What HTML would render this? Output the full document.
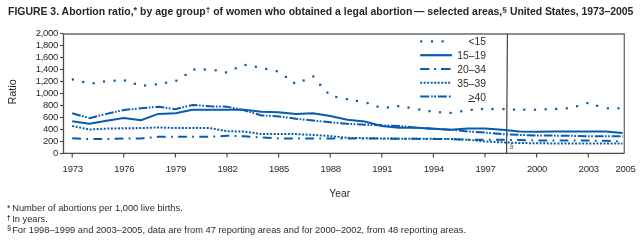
<!DOCTYPE html>
<html><head><meta charset="utf-8"><style>
html,body{margin:0;padding:0;background:#fff;width:641px;height:242px;overflow:hidden;position:relative}
#w{position:absolute;left:0;top:0;width:641px;height:242px;will-change:transform;-webkit-font-smoothing:antialiased}
div{position:absolute;white-space:nowrap;font-family:"Liberation Sans",sans-serif;color:#2b2b2b;line-height:1}
.t{top:6.6px;font-size:10.1px;font-weight:bold;color:#262626;transform-origin:0 0;transform:scaleX(1.035)}
.t sup{font-size:8px;vertical-align:0;position:relative;top:-2.2px}
.yl{right:583px;font-size:9.5px;letter-spacing:-0.3px;text-align:right}
.xl{top:164.3px;width:40px;text-align:center;font-size:9.5px;letter-spacing:-0.25px}
.lg{right:155px;font-size:10.3px}
.fn{left:12.2px;font-size:9.3px}
.fs{left:7.3px;font-size:7px;color:#222}
.fn sup{font-size:6px;position:relative;top:-3px;vertical-align:0;margin-right:1px}
</style></head><body><div id="w">
<svg width="641" height="242" style="position:absolute;left:0;top:0">
<path d="M63.5,34 H624.3 V153.4" fill="none" stroke="#6a6a6a" stroke-width="1.3"/>
<path d="M63.5,34 V153.4 H624.3" fill="none" stroke="#4a4a4a" stroke-width="1.3"/>
<line x1="60" y1="153.50" x2="63.5" y2="153.50" stroke="#4a4a4a" stroke-width="1.2"/>
<line x1="60" y1="141.50" x2="63.5" y2="141.50" stroke="#4a4a4a" stroke-width="1.2"/>
<line x1="60" y1="129.50" x2="63.5" y2="129.50" stroke="#4a4a4a" stroke-width="1.2"/>
<line x1="60" y1="117.50" x2="63.5" y2="117.50" stroke="#4a4a4a" stroke-width="1.2"/>
<line x1="60" y1="105.50" x2="63.5" y2="105.50" stroke="#4a4a4a" stroke-width="1.2"/>
<line x1="60" y1="93.50" x2="63.5" y2="93.50" stroke="#4a4a4a" stroke-width="1.2"/>
<line x1="60" y1="81.50" x2="63.5" y2="81.50" stroke="#4a4a4a" stroke-width="1.2"/>
<line x1="60" y1="69.50" x2="63.5" y2="69.50" stroke="#4a4a4a" stroke-width="1.2"/>
<line x1="60" y1="57.50" x2="63.5" y2="57.50" stroke="#4a4a4a" stroke-width="1.2"/>
<line x1="60" y1="45.50" x2="63.5" y2="45.50" stroke="#4a4a4a" stroke-width="1.2"/>
<line x1="60" y1="33.50" x2="63.5" y2="33.50" stroke="#4a4a4a" stroke-width="1.2"/>
<line x1="72.20" y1="153.4" x2="72.20" y2="157.5" stroke="#4a4a4a" stroke-width="1.2"/>
<line x1="123.80" y1="153.4" x2="123.80" y2="157.5" stroke="#4a4a4a" stroke-width="1.2"/>
<line x1="175.40" y1="153.4" x2="175.40" y2="157.5" stroke="#4a4a4a" stroke-width="1.2"/>
<line x1="227.00" y1="153.4" x2="227.00" y2="157.5" stroke="#4a4a4a" stroke-width="1.2"/>
<line x1="278.60" y1="153.4" x2="278.60" y2="157.5" stroke="#4a4a4a" stroke-width="1.2"/>
<line x1="330.20" y1="153.4" x2="330.20" y2="157.5" stroke="#4a4a4a" stroke-width="1.2"/>
<line x1="381.80" y1="153.4" x2="381.80" y2="157.5" stroke="#4a4a4a" stroke-width="1.2"/>
<line x1="433.40" y1="153.4" x2="433.40" y2="157.5" stroke="#4a4a4a" stroke-width="1.2"/>
<line x1="485.00" y1="153.4" x2="485.00" y2="157.5" stroke="#4a4a4a" stroke-width="1.2"/>
<line x1="536.60" y1="153.4" x2="536.60" y2="157.5" stroke="#4a4a4a" stroke-width="1.2"/>
<line x1="588.20" y1="153.4" x2="588.20" y2="157.5" stroke="#4a4a4a" stroke-width="1.2"/>
<line x1="507.4" y1="34" x2="506.6" y2="153.4" stroke="#3a3a3a" stroke-width="1.15"/>
<polyline points="72.20,138.20 89.40,139.04 106.60,139.04 123.80,138.44 141.00,138.38 158.20,136.82 175.40,136.82 192.60,136.82 209.80,136.82 227.00,135.74 244.20,136.34 261.40,137.42 278.60,138.44 295.80,138.44 313.00,138.44 330.20,138.44 347.40,138.44 364.60,138.44 381.80,138.62 399.00,138.74 416.20,138.86 433.40,138.98 450.60,139.10 467.80,139.70 485.00,139.88 502.20,139.70 519.40,140.12 536.60,140.42 553.80,140.54 571.00,140.54 588.20,140.54 605.40,140.78 622.60,141.38" fill="none" stroke="#075cad" stroke-width="2.0" stroke-dasharray="8.8 5.3 1.8 5.3"/>
<polyline points="72.20,125.96 89.40,129.50 106.60,128.60 123.80,128.30 141.00,128.06 158.20,127.46 175.40,128.06 192.60,128.06 209.80,128.06 227.00,131.18 244.20,131.60 261.40,134.12 278.60,134.12 295.80,134.12 313.00,134.90 330.20,136.10 347.40,137.84 364.60,138.20 381.80,138.44 399.00,138.62 416.20,138.74 433.40,138.86 450.60,138.98 467.80,139.70 485.00,141.50 502.20,142.34 519.40,142.94 536.60,143.30 553.80,143.42 571.00,143.42 588.20,143.42 605.40,143.42 622.60,143.42" fill="none" stroke="#075cad" stroke-width="2.0" stroke-dasharray="2 1.55"/>
<polyline points="72.20,113.30 89.40,118.10 106.60,113.90 123.80,110.00 141.00,108.32 158.20,106.70 175.40,109.16 192.60,104.96 209.80,106.28 227.00,106.70 244.20,110.36 261.40,115.40 278.60,116.42 295.80,118.70 313.00,120.56 330.20,122.24 347.40,123.86 364.60,124.76 381.80,125.36 399.00,125.96 416.20,127.64 433.40,128.66 450.60,129.68 467.80,131.42 485.00,132.62 502.20,134.12 519.40,134.90 536.60,135.50 553.80,135.62 571.00,135.80 588.20,136.22 605.40,136.34 622.60,136.34" fill="none" stroke="#075cad" stroke-width="2.0" stroke-dasharray="8.8 1.5 1.6 1.5 1.7 1.9"/>
<polyline points="72.20,121.22 89.40,123.68 106.60,120.74 123.80,118.10 141.00,120.14 158.20,113.90 175.40,113.30 192.60,109.76 209.80,109.76 227.00,109.76 244.20,109.76 261.40,111.86 278.60,112.28 295.80,114.08 313.00,113.30 330.20,116.00 347.40,119.78 364.60,121.46 381.80,125.96 399.00,127.64 416.20,127.64 433.40,128.66 450.60,129.68 467.80,128.48 485.00,128.48 502.20,129.74 519.40,131.60 536.60,131.78 553.80,131.60 571.00,131.60 588.20,131.60 605.40,131.60 622.60,132.98" fill="none" stroke="#075cad" stroke-width="2.0"/>
<rect x="71.80" y="78.40" width="2.2" height="2.2" fill="#075cad"/>
<rect x="82.10" y="80.90" width="2.2" height="2.2" fill="#075cad"/>
<rect x="92.50" y="82.20" width="2.2" height="2.2" fill="#075cad"/>
<rect x="102.90" y="80.40" width="2.2" height="2.2" fill="#075cad"/>
<rect x="113.50" y="79.60" width="2.2" height="2.2" fill="#075cad"/>
<rect x="123.90" y="79.40" width="2.2" height="2.2" fill="#075cad"/>
<rect x="133.80" y="82.70" width="2.2" height="2.2" fill="#075cad"/>
<rect x="144.00" y="84.40" width="2.2" height="2.2" fill="#075cad"/>
<rect x="154.70" y="83.30" width="2.2" height="2.2" fill="#075cad"/>
<rect x="165.00" y="81.60" width="2.2" height="2.2" fill="#075cad"/>
<rect x="175.30" y="79.60" width="2.2" height="2.2" fill="#075cad"/>
<rect x="184.40" y="73.80" width="2.2" height="2.2" fill="#075cad"/>
<rect x="193.30" y="68.40" width="2.2" height="2.2" fill="#075cad"/>
<rect x="203.70" y="68.40" width="2.2" height="2.2" fill="#075cad"/>
<rect x="214.60" y="69.20" width="2.2" height="2.2" fill="#075cad"/>
<rect x="224.90" y="71.30" width="2.2" height="2.2" fill="#075cad"/>
<rect x="234.60" y="67.20" width="2.2" height="2.2" fill="#075cad"/>
<rect x="244.40" y="63.90" width="2.2" height="2.2" fill="#075cad"/>
<rect x="254.80" y="65.70" width="2.2" height="2.2" fill="#075cad"/>
<rect x="265.10" y="67.80" width="2.2" height="2.2" fill="#075cad"/>
<rect x="275.70" y="70.10" width="2.2" height="2.2" fill="#075cad"/>
<rect x="284.80" y="75.80" width="2.2" height="2.2" fill="#075cad"/>
<rect x="293.00" y="81.80" width="2.2" height="2.2" fill="#075cad"/>
<rect x="302.50" y="79.40" width="2.2" height="2.2" fill="#075cad"/>
<rect x="312.20" y="75.40" width="2.2" height="2.2" fill="#075cad"/>
<rect x="319.10" y="83.70" width="2.2" height="2.2" fill="#075cad"/>
<rect x="326.30" y="91.50" width="2.2" height="2.2" fill="#075cad"/>
<rect x="335.20" y="95.90" width="2.2" height="2.2" fill="#075cad"/>
<rect x="345.80" y="98.10" width="2.2" height="2.2" fill="#075cad"/>
<rect x="355.80" y="99.90" width="2.2" height="2.2" fill="#075cad"/>
<rect x="366.50" y="102.00" width="2.2" height="2.2" fill="#075cad"/>
<rect x="376.40" y="105.50" width="2.2" height="2.2" fill="#075cad"/>
<rect x="386.80" y="106.30" width="2.2" height="2.2" fill="#075cad"/>
<rect x="397.10" y="105.10" width="2.2" height="2.2" fill="#075cad"/>
<rect x="407.40" y="106.50" width="2.2" height="2.2" fill="#075cad"/>
<rect x="418.20" y="108.40" width="2.2" height="2.2" fill="#075cad"/>
<rect x="428.40" y="110.10" width="2.2" height="2.2" fill="#075cad"/>
<rect x="438.90" y="111.20" width="2.2" height="2.2" fill="#075cad"/>
<rect x="449.50" y="111.80" width="2.2" height="2.2" fill="#075cad"/>
<rect x="460.20" y="110.20" width="2.2" height="2.2" fill="#075cad"/>
<rect x="470.60" y="108.70" width="2.2" height="2.2" fill="#075cad"/>
<rect x="480.90" y="108.00" width="2.2" height="2.2" fill="#075cad"/>
<rect x="491.40" y="108.00" width="2.2" height="2.2" fill="#075cad"/>
<rect x="502.40" y="108.00" width="2.2" height="2.2" fill="#075cad"/>
<rect x="512.90" y="108.50" width="2.2" height="2.2" fill="#075cad"/>
<rect x="523.20" y="108.60" width="2.2" height="2.2" fill="#075cad"/>
<rect x="533.90" y="108.60" width="2.2" height="2.2" fill="#075cad"/>
<rect x="544.60" y="108.20" width="2.2" height="2.2" fill="#075cad"/>
<rect x="555.10" y="107.80" width="2.2" height="2.2" fill="#075cad"/>
<rect x="565.70" y="107.20" width="2.2" height="2.2" fill="#075cad"/>
<rect x="576.00" y="105.10" width="2.2" height="2.2" fill="#075cad"/>
<rect x="586.30" y="102.00" width="2.2" height="2.2" fill="#075cad"/>
<rect x="596.00" y="104.70" width="2.2" height="2.2" fill="#075cad"/>
<rect x="606.80" y="107.20" width="2.2" height="2.2" fill="#075cad"/>
<rect x="617.30" y="107.20" width="2.2" height="2.2" fill="#075cad"/>
<rect x="420.10" y="40.30" width="2.2" height="2.2" fill="#075cad"/>
<rect x="430.90" y="40.30" width="2.2" height="2.2" fill="#075cad"/>
<rect x="441.50" y="40.30" width="2.2" height="2.2" fill="#075cad"/>
<line x1="420.2" y1="55.2" x2="451.9" y2="55.2" stroke="#075cad" stroke-width="2.2"/>
<path d="M420.2,69 H429.4 M434.1,69 H436.2 M441,69 H450.6" stroke="#075cad" stroke-width="2.2"/>
<line x1="420.2" y1="82.75" x2="450.8" y2="82.75" stroke="#075cad" stroke-width="2.2" stroke-dasharray="2 1.5"/>
<path d="M420.2,96.5 H429.2 M431.2,96.5 H432.8 M434,96.5 H436 M437.8,96.5 H446.9 M448.8,96.5 H450.6" stroke="#075cad" stroke-width="2.2"/>
</svg>
<div class="t" style="left:7.5px">FIGURE 3. Abortion ratio,<sup style="font-size:9px;top:-2px">*</sup> by age group<sup>†</sup> of women who obtained a legal abortion</div><div class="t" style="left:414px">— selected areas,<sup>§</sup></div><div class="t" style="left:510px;letter-spacing:-0.07px">United States, 1973–2005</div>
<div class="yl" style="top:148.40px">0</div><div class="yl" style="top:136.40px">200</div><div class="yl" style="top:124.40px">400</div><div class="yl" style="top:112.40px">600</div><div class="yl" style="top:100.40px">800</div><div class="yl" style="top:88.40px">1,000</div><div class="yl" style="top:76.40px">1,200</div><div class="yl" style="top:64.40px">1,400</div><div class="yl" style="top:52.40px">1,600</div><div class="yl" style="top:40.40px">1,800</div><div class="yl" style="top:28.40px">2,000</div>
<div class="xl" style="left:52.70px">1973</div><div class="xl" style="left:104.30px">1976</div><div class="xl" style="left:155.90px">1979</div><div class="xl" style="left:207.50px">1982</div><div class="xl" style="left:259.10px">1985</div><div class="xl" style="left:310.70px">1988</div><div class="xl" style="left:362.30px">1991</div><div class="xl" style="left:413.90px">1994</div><div class="xl" style="left:465.50px">1997</div><div class="xl" style="left:517.10px">2000</div><div class="xl" style="left:568.70px">2003</div><div class="xl" style="left:605.60px">2005</div>
<div style="left:0px;top:86px;font-size:10.8px;transform:rotate(-90deg);transform-origin:12.5px 6px">Ratio</div>
<div style="left:329.3px;top:188.5px;font-size:10.3px">Year</div>
<div class="lg" style="top:37.2px">&lt;15</div>
<div class="lg" style="top:51.3px">15–19</div>
<div class="lg" style="top:65.2px">20–34</div>
<div class="lg" style="top:79.1px">35–39</div>
<div class="lg" style="top:92.9px">&gt;40</div><div style="left:468.3px;top:100.6px;width:6.8px;height:1.4px;background:#333"></div>
<div style="left:509.8px;top:143.4px;font-size:6.8px;color:#444">§</div>
<div class="fs" style="top:204.2px;font-size:8.6px;left:7px">*</div><div class="fn" style="top:204.4px">Number of abortions per 1,000 live births.</div>
<div class="fs" style="top:214.6px;font-size:6.3px;font-weight:bold;left:7.1px">†</div><div class="fn" style="top:215.2px">In years.</div>
<div class="fs" style="top:224.3px;font-size:7.5px;left:7px">§</div><div class="fn" style="top:226.1px">For 1998–1999 and 2003–2005, data are from 47 reporting areas and for 2000–2002, from 48 reporting areas.</div>
</div></body></html>
